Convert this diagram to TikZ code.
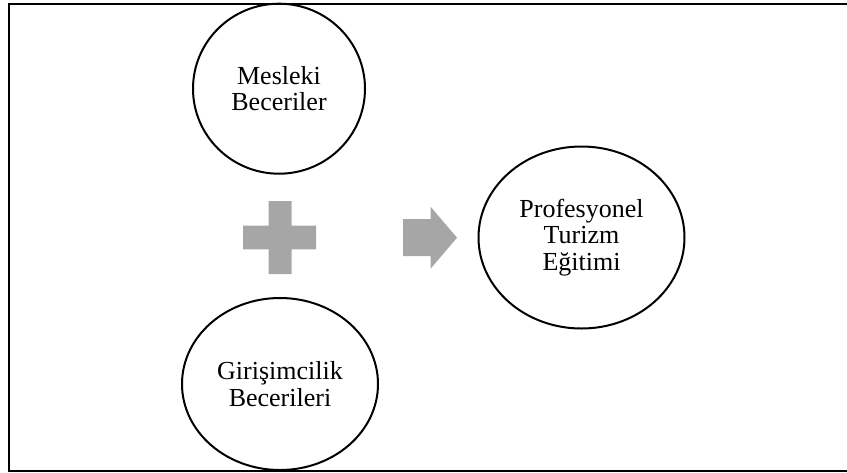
\documentclass[tikz,border=0pt]{standalone}
\usepackage{fontspec}
\setmainfont{Liberation Serif}
\usepackage{tikz}
\usetikzlibrary{shapes.geometric}

\definecolor{signgray}{HTML}{A6A6A6}

\tikzset{
    skill/.style={draw,
        ellipse,
        line width=1pt,
        inner sep=0pt,
        align=center,
        font=\fontsize{13}{13.3}\selectfont
    }
}

\begin{document}
\begin{tikzpicture}[x=0.5pt,y=-0.5pt]

        \useasboundingbox (0,0) rectangle (847,472);

        % Frame (open on the right)
        \draw[line width=1pt] (847,3.5) -- (8.5,3.5) -- (8.5,470.5) -- (847,470.5);

        % Skills

        \node [skill,
        minimum width=86pt,
        minimum height=85pt
            ] (mesleki) at (279,88.7) {Mesleki\\Beceriler};

        \node [skill,
        minimum width=98pt,
        minimum height=86pt
            ] (girisim) at (280,384) {Girişimcilik\\Becerileri};

        % Result

        \node [skill,
        minimum width=103pt,
        minimum height=91pt
            ] (egitim) at (581.5,237.5) {Profesyonel\\Turizm\\Eğitimi};

        % Plus sign
        \fill[signgray] (268.5,201) -- (291.7,201) -- (291.7,225.7)
            -- (316,225.7) -- (316,249.3) -- (291.7,249.3)
            -- (291.7,274) -- (268.5,274) -- (268.5,249.3)
            -- (243,249.3) -- (243,225.7) -- (268.5,225.7) -- cycle;

        % Arrow
        \fill[signgray] (403,219) -- (430.6,219) -- (430.6,206.7)
            -- (457,237.7) -- (430.6,268.7) -- (430.6,256)
            -- (403,256) -- cycle;

\end{tikzpicture}
\end{document}
